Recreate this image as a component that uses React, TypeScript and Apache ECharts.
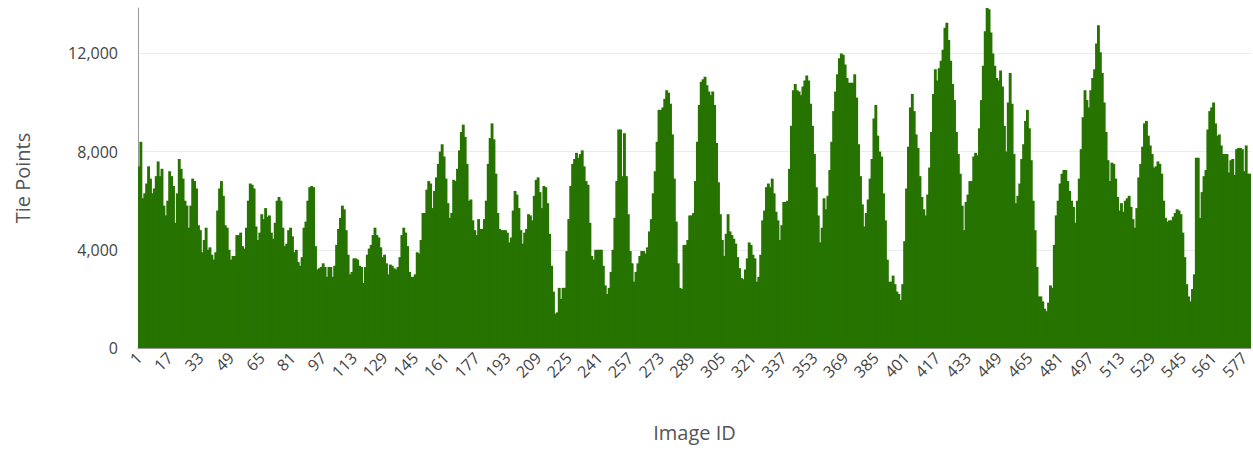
import { useEffect, useRef } from "react";
import * as echarts from "echarts";

// Tie points per image in runs of ~48 images
const tiePoints001 = [7400, 8400, 6100, 6300, 6700, 7400, 6900, 6300, 6500, 7000, 7600, 7000, 7300, 5800, 5400, 6000, 7200, 7000, 6600, 5100, 6300, 7700, 7300, 6900, 6000, 5800, 4900, 5800, 6900, 6800, 6500, 5000, 4800, 3900, 4400, 4900, 4000, 4100, 3800, 3600, 3900, 5600, 6500, 6800, 6200, 5000, 4900, 4000];
const tiePoints049 = [3600, 3750, 3750, 4600, 4600, 4700, 4150, 4050, 4900, 6000, 6700, 6650, 6500, 4950, 4400, 4700, 5450, 5250, 5700, 5350, 5400, 4700, 4450, 5100, 6000, 6150, 6000, 4900, 4150, 4250, 4800, 4900, 4550, 3900, 4000, 3500, 3350, 3700, 4900, 5150, 6000, 6550, 6600, 6550, 4150, 3200, 3250, 3300];
const tiePoints097 = [3450, 3300, 2900, 3300, 3300, 2900, 3350, 4200, 4850, 5300, 5800, 5650, 4800, 3800, 3000, 3100, 3650, 3650, 3600, 3350, 3300, 2650, 3300, 3800, 4050, 4200, 4600, 4900, 4600, 4500, 4100, 3700, 3800, 3450, 3000, 3400, 3350, 3250, 3200, 3300, 3700, 4600, 4900, 4700, 4150, 3100, 2900, 2900];
const tiePoints145 = [3000, 3900, 3850, 4400, 5500, 5500, 6450, 6800, 6700, 5700, 6400, 6950, 7500, 8000, 8300, 7800, 6900, 5900, 5300, 5500, 6850, 6800, 7300, 8050, 8800, 9100, 8600, 7500, 6000, 6050, 5200, 4800, 4600, 5250, 4850, 4850, 5250, 6000, 7500, 8550, 9150, 8500, 7100, 5500, 4850, 4800, 4800, 4800, 4700];
const tiePoints194 = [4300, 4500, 5600, 6400, 6250, 5700, 4800, 4250, 4700, 4850, 5450, 5400, 5200, 6200, 6850, 6950, 6350, 5700, 6600, 6550, 5900, 4650, 3350, 2300, 1400, 1450, 2450, 2000, 2450, 2450, 3950, 5250, 6600, 7500, 7700, 7950, 7750, 7900, 8050, 7400, 6800, 6650, 5100, 3750, 3600, 4000, 4000, 4000];
const tiePoints242 = [4000, 3350, 2550, 2200, 2450, 3100, 4000, 5300, 6800, 8900, 8900, 7000, 8750, 7000, 5450, 3950, 3450, 2700, 3100, 3450, 3750, 3950, 3950, 3850, 4100, 4750, 5250, 6300, 7200, 8400, 9700, 9700, 9800, 10150, 10500, 10400, 9950, 8700, 6900, 5150, 3450, 2450, 2400, 4200, 4200, 4400, 5400, 5400, 5500];
const tiePoints291 = [6800, 8400, 9900, 10850, 10950, 11050, 10700, 10450, 10300, 10450, 9900, 8350, 6750, 5450, 4400, 3750, 4650, 5450, 4750, 4600, 4450, 4250, 3700, 3250, 2850, 2800, 3200, 3650, 4300, 4200, 3800, 3650, 2700, 2900, 3800, 5200, 5600, 6550, 6700, 6550, 6900, 6300, 5550, 5200, 4400, 5000, 5950, 5950];
const tiePoints339 = [6000, 7300, 9050, 10500, 10750, 10500, 10450, 10300, 10650, 10900, 11100, 10900, 9950, 9050, 7900, 6550, 5400, 4300, 4900, 6100, 5650, 6200, 7250, 8400, 9650, 10450, 11150, 11800, 12000, 11950, 11550, 11000, 10800, 10800, 10800, 11150, 10200, 8300, 7000, 5850, 4950, 5500, 6050, 6900, 7700, 9350, 9900, 8650, 8000];
const tiePoints388 = [7800, 6300, 5200, 3600, 2700, 2700, 2950, 2600, 2300, 2200, 1950, 2600, 4350, 6500, 8200, 9800, 10350, 9650, 8700, 8150, 7000, 6150, 5650, 5400, 6250, 7350, 8800, 10350, 11350, 10900, 11400, 11700, 12150, 13050, 13250, 12550, 11700, 10750, 10100, 8800, 7900, 7100, 5800, 4800, 5950, 6250, 6800, 6800];
const tiePoints436 = [7800, 7950, 7850, 8950, 10100, 11500, 12900, 13850, 13800, 12850, 12000, 11500, 11000, 10900, 11300, 10650, 9050, 8000, 10000, 11200, 9950, 7900, 5900, 6200, 6700, 7700, 8300, 9250, 9700, 8950, 7650, 6000, 4800, 3300, 2100, 2100, 1900, 1600, 1500, 1850, 2550, 2450, 4200, 5400, 6000, 6700, 7100, 7250, 7250];
const tiePoints485 = [6800, 6400, 6000, 5750, 5100, 6000, 6900, 8100, 9400, 10500, 10100, 9800, 10500, 11000, 11350, 12400, 13150, 12050, 11200, 10000, 8800, 7650, 6800, 7550, 7500, 6900, 6150, 5600, 5900, 5550, 6000, 6100, 6200, 5750, 5250, 4900, 5700, 6950, 7500, 8200, 9150, 9250, 8650, 8250, 7900, 7350, 7400, 7600];
const tiePoints533 = [7500, 7100, 6000, 5300, 5150, 5200, 5200, 5350, 5500, 5650, 5600, 5450, 4700, 3700, 2600, 2100, 1900, 2400, 3000, 7750, 7750, 5300, 6350, 7000, 7250, 8900, 9650, 9800, 10000, 9150, 8650, 8700, 8250, 7900, 7900, 7900, 7150, 7650, 7700, 7050, 8100, 8150, 8150, 8100, 7200, 8250, 7100, 7100];

const tiePoints = [
  ...tiePoints001, ...tiePoints049, ...tiePoints097, ...tiePoints145,
  ...tiePoints194, ...tiePoints242, ...tiePoints291, ...tiePoints339,
  ...tiePoints388, ...tiePoints436, ...tiePoints485, ...tiePoints533,
];
const imageIds = tiePoints.map((_, i) => String(i + 1));

const FONT = "'Open Sans', 'Noto Sans', 'DejaVu Sans', sans-serif";
const BAR_GREEN = "#267300";

export default function App() {
  const ref = useRef<HTMLDivElement>(null);
  useEffect(() => {
    document.body.style.margin = "0";
    const chart = echarts.init(ref.current!, null, { renderer: "svg" });
    chart.setOption({
      animation: false,
      textStyle: { fontFamily: FONT },
      grid: { left: 138, right: 2, top: 8, bottom: 104, outerBoundsMode: "none" },
      xAxis: {
        type: "category",
        data: imageIds,
        name: "Image ID",
        nameLocation: "middle",
        nameGap: 74,
        nameTextStyle: { fontSize: 20, color: "#555555", fontFamily: FONT },
        axisLine: { lineStyle: { color: "#9a9a9a", width: 1 } },
        axisTick: { length: 5, lineStyle: { color: "#9a9a9a" } },
        axisLabel: { interval: 15, rotate: 45, fontSize: 16, color: "#444444", margin: 7, fontFamily: FONT },
      },
      yAxis: {
        type: "value",
        min: 0,
        max: "dataMax",
        interval: 4000,
        name: "Tie Points",
        nameLocation: "middle",
        nameGap: 106,
        nameTextStyle: { fontSize: 20, color: "#555555", fontFamily: FONT },
        axisLine: { show: true, lineStyle: { color: "#9a9a9a", width: 1 } },
        axisTick: { show: false },
        axisLabel: {
          fontSize: 16,
          color: "#444444",
          margin: 20,
          showMaxLabel: false,
          fontFamily: FONT,
          formatter: (v: number) => v.toLocaleString("en-US"),
        },
        splitLine: { show: true, showMaxLine: false, showMinLine: false, lineStyle: { color: "#ebebeb", width: 1 } },
      },
      series: [
        {
          type: "bar",
          data: tiePoints,
          barWidth: "150%",
          itemStyle: { color: BAR_GREEN },
        },
      ],
    });
    return () => chart.dispose();
  }, []);
  return <div ref={ref} style={{ width: 1253, height: 452 }} />;
}
